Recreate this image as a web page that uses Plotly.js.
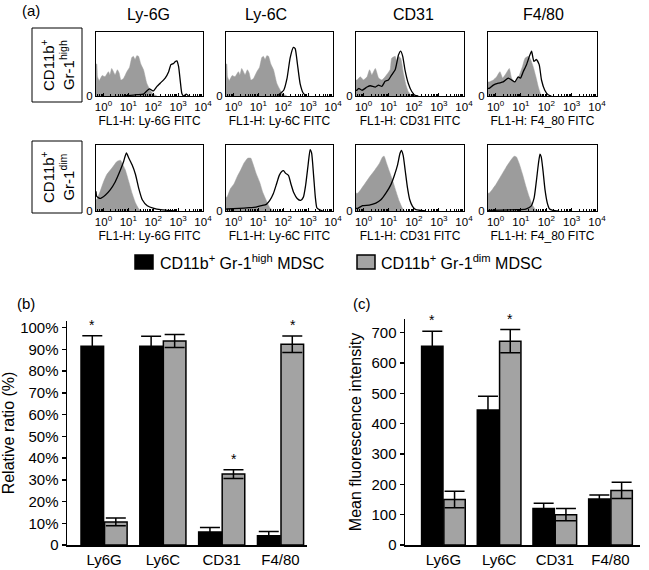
<!DOCTYPE html>
<html><head><meta charset="utf-8">
<script src="https://cdn.plot.ly/plotly-3.0.1.min.js"></script>
<style>html,body{margin:0;padding:0;background:#fff}#chart{width:649px;height:570px}</style>
</head><body><div id="chart"></div>
<script>
// ---------- (a) histograms: x in log10 decades, y in % of panel height ----------
const hiIso_x = [-0.3,-0.27,-0.24,-0.17,-0.05,0.06,0.2,0.26,0.33,0.4,0.47,0.56,0.63,0.7,0.8,0.94,1.05,1.14,1.2,1.27,1.34,1.41,1.5,1.61,1.74,1.88,2.01,2.15];
const hiIso_y = [50,50,30,24,32,30,38,33,43,38,33,41,36,25,27,38,45,60,62,57,63,62,50,41,20,9,3,0];
const hiLy6G_x = [0.8,1.07,1.34,1.61,1.74,1.85,1.94,2.01,2.15,2.28,2.48,2.62,2.71,2.82,2.89,2.95,3.02,3.09,3.15,3.22,3.33,3.42];
const hiLy6G_y = [0,1,2,3,8,11,9,8,15,20,28,38,49,51,54,55,46,22,4,0,3,0];
const hiLy6C_x = [1.75,2.02,2.15,2.28,2.41,2.48,2.57,2.68,2.81,2.94];
const hiLy6C_y = [0,9,27,60,76,74,50,19,4,0];
const hiIsoCD31_x = [-0.3,-0.26,-0.13,0.0,0.14,0.24,0.33,0.47,0.6,0.73,0.86,1.06,1.12,1.26,1.32,1.39,1.48,1.59,1.69,1.78,1.92];
const hiIsoCD31_y = [25,25,30,25,30,41,33,43,28,25,30,41,59,62,54,62,59,35,17,7,0];
const hiCD31_x = [-0.3,-0.26,-0.19,-0.06,0.14,0.27,0.47,0.6,0.73,0.86,0.99,1.12,1.26,1.32,1.39,1.48,1.56,1.65,1.78,1.92,2.05,2.18];
const hiCD31_y = [9,9,12,9,14,16,14,17,15,23,25,33,41,51,64,70,62,41,20,7,1,0];
const hiIsoF480_x = [-0.3,-0.25,-0.09,0.04,0.17,0.28,0.41,0.54,0.63,0.76,0.89,1.06,1.16,1.29,1.38,1.48,1.59,1.68,1.77,1.88];
const hiIsoF480_y = [22,22,25,30,38,28,35,43,28,22,28,46,59,62,57,46,30,15,4,0];
const hiF480_x = [-0.3,-0.25,-0.09,0.11,0.3,0.5,0.63,0.76,0.89,0.98,1.09,1.22,1.35,1.42,1.51,1.61,1.72,1.81,1.94,2.07,2.2];
const hiF480_y = [12,12,17,20,22,28,25,22,30,28,38,49,64,70,54,57,49,25,9,2,0];

const dimIsoLy6G_x = [-0.3,-0.25,-0.14,0.0,0.13,0.34,0.54,0.68,0.78,0.88,1.02,1.15,1.29,1.42,1.56];
const dimIsoLy6G_y = [17,19,29,44,55,65,75,77,70,62,44,27,12,3,0];
const dimLy6G_x = [-0.3,-0.27,-0.14,0.07,0.27,0.47,0.68,0.81,0.92,1.02,1.15,1.29,1.42,1.56,1.76,2.03,2.3,2.57,2.85];
const dimLy6G_y = [30,22,19,24,32,44,62,75,88,80,70,55,34,17,8,4,2,1,0];
const dimIsoLy6C_x = [-0.3,-0.26,-0.12,0.02,0.15,0.29,0.43,0.57,0.7,0.77,0.91,1.05,1.18,1.32,1.46,1.6];
const dimIsoLy6C_y = [21,21,34,41,52,62,73,80,80,73,57,44,28,16,5,0];
const dimLy6C_x = [-0.3,-0.26,0.22,0.63,0.91,1.12,1.32,1.46,1.6,1.73,1.84,1.94,2.01,2.1,2.21,2.31,2.42,2.56,2.7,2.81,2.9,3.0,3.08,3.14,3.22,3.29,3.35,3.45,3.59];
const dimLy6C_y = [3,3,4,5,6,8,10,16,26,41,54,60,61,57,54,41,28,19,16,21,39,70,93,88,54,21,5,2,0];
const dimIsoCD31_x = [-0.3,-0.23,-0.1,0.03,0.23,0.43,0.63,0.76,0.82,0.92,1.02,1.16,1.29,1.42,1.55,1.66];
const dimIsoCD31_y = [27,27,33,40,51,61,72,82,83,72,61,46,30,15,4,0];
const dimCD31_x = [-0.3,-0.23,-0.04,0.23,0.49,0.69,0.89,1.09,1.22,1.35,1.45,1.51,1.58,1.66,1.75,1.84,1.95,2.08,2.28,2.48];
const dimCD31_y = [4,4,8,9,12,17,27,40,53,69,87,92,84,61,35,17,7,2,1,0];
const dimIsoF480_x = [-0.3,-0.25,-0.12,0.01,0.21,0.41,0.6,0.73,0.82,0.93,1.06,1.19,1.32,1.45,1.58,1.69];
const dimIsoF480_y = [27,27,33,40,53,66,77,83,82,72,56,38,22,9,2,0];
const dimF480_x = [-0.3,0.8,1.19,1.39,1.52,1.61,1.69,1.75,1.8,1.87,1.95,2.04,2.13,2.26,2.5];
const dimF480_y = [1,2,3,7,20,46,72,86,82,61,32,12,3,1,0];

const markerTitles = ['Ly-6G','Ly-6C','CD31','F4/80'];
const axisLabels = ['FL1-H: Ly-6G FITC','FL1-H: Ly-6C FITC','FL1-H: CD31 FITC','FL1-H: F4_80 FITC'];
const decadeTickText = ['10<sup>0</sup>','10<sup>1</sup>','10<sup>2</sup>','10<sup>3</sup>','10<sup>4</sup>'];

// ---------- (b), (c) bar charts ----------
const categories = ['Ly6G','Ly6C','CD31','F4/80'];
const ratioHigh = [91.4, 91.4, 6.0, 4.2];
const ratioHighErr = [4.8, 4.6, 2.0, 2.0];
const ratioDim = [10.6, 93.8, 32.6, 92.3];
const ratioDimErr = [1.8, 3.0, 2.0, 3.8];
const mfiHigh = [655, 445, 120, 152];
const mfiHighErr = [50, 45, 18, 13];
const mfiDim = [150, 672, 100, 180];
const mfiDimErr = [27, 38, 20, 27];
const ratioTicks = [0,10,20,30,40,50,60,70,80,90,100];
const mfiTicks = [0,100,200,300,400,500,600,700];

// ---------- build ----------
const W = 649, H = 570;
const px = v => v / W, py = v => 1 - v / H;
const FONT = 'Liberation Sans, Arial, Helvetica, sans-serif';
const GRAY_H = '#9c9c9c', GRAY_B = '#a3a3a3';

const panels = [
  [hiIso_x, hiIso_y, hiLy6G_x, hiLy6G_y],
  [hiIso_x, hiIso_y, hiLy6C_x, hiLy6C_y],
  [hiIsoCD31_x, hiIsoCD31_y, hiCD31_x, hiCD31_y],
  [hiIsoF480_x, hiIsoF480_y, hiF480_x, hiF480_y],
  [dimIsoLy6G_x, dimIsoLy6G_y, dimLy6G_x, dimLy6G_y],
  [dimIsoLy6C_x, dimIsoLy6C_y, dimLy6C_x, dimLy6C_y],
  [dimIsoCD31_x, dimIsoCD31_y, dimCD31_x, dimCD31_y],
  [dimIsoF480_x, dimIsoF480_y, dimF480_x, dimF480_y]
];
const colX = [[96,203],[226,333],[356,464],[488,597]];
const rowY = [[32,96],[145,211]];

const minorVals = [];
for (const base of [0.1,1,10,100,1000]) for (let d=2; d<=9; d++) minorVals.push(base*d);

const data = [];
const layout = {
  width: W, height: H, margin:{l:0,r:0,t:0,b:0},
  paper_bgcolor:'#fff', plot_bgcolor:'rgba(0,0,0,0)',
  font:{family:FONT, color:'#000'},
  showlegend:false, barmode:'group', bargap:0.2, bargroupgap:0.04,
  annotations:[], shapes:[]
};

panels.forEach((p, i) => {
  const n = i + 1, id = n === 1 ? '' : String(n);
  const r = Math.floor(i / 4), c = i % 4;
  data.push({type:'scatter', mode:'lines', x:p[0].map(v=>Math.pow(10,v)), y:p[1],
    fill:'tozeroy', fillcolor:GRAY_H, line:{color:GRAY_H, width:0.5, shape:'spline', smoothing:0.4},
    xaxis:'x'+id, yaxis:'y'+id, hoverinfo:'skip'});
  data.push({type:'scatter', mode:'lines', x:p[2].map(v=>Math.pow(10,v)), y:p[3],
    line:{color:'#000', width:1.3, shape:'spline', smoothing:0.5},
    xaxis:'x'+id, yaxis:'y'+id, hoverinfo:'skip'});
  layout['xaxis'+id] = {domain:[px(colX[c][0]), px(colX[c][1])], anchor:'y'+id, type:'log', range:[-0.3,4],
    tickmode:'array', tickvals:[1,10,100,1000,10000], ticktext:decadeTickText,
    ticks:'inside', ticklen:3, tickwidth:1, tickcolor:'#000',
    minor:{tickmode:'array', tickvals:minorVals, ticks:'inside', ticklen:2, tickwidth:1, tickcolor:'#000', showgrid:false},
    showline:true, mirror:true, linecolor:'#000', linewidth:1, showgrid:false, zeroline:false,
    tickfont:{size:11.5}, title:{text:axisLabels[c], font:{size:12}, standoff:4}, fixedrange:true};
  layout['yaxis'+id] = {domain:[py(rowY[r][1]), py(rowY[r][0])], anchor:'x'+id, range:[0,100],
    tickmode:'array', tickvals:[0], ticktext:['0'], ticks:'', showline:true, mirror:true,
    linecolor:'#000', linewidth:1, showgrid:false, zeroline:false, tickfont:{size:11.5}, fixedrange:true};
});

// bar traces
function bars(y, err, color, xa, ya) {
  return {type:'bar', x:categories, y:y, xaxis:xa, yaxis:ya, hoverinfo:'skip',
    marker:{color:color, line:{color:'#000', width:1.5}},
    error_y:{type:'data', array:err, visible:true, color:'#000', thickness:1.5, width:10}};
}
data.push(bars(ratioHigh, ratioHighErr, '#000', 'x9', 'y9'));
data.push(bars(ratioDim, ratioDimErr, GRAY_B, 'x9', 'y9'));
data.push(bars(mfiHigh, mfiHighErr, '#000', 'x10', 'y10'));
data.push(bars(mfiDim, mfiDimErr, GRAY_B, 'x10', 'y10'));

const barX = {type:'category', showline:true, linecolor:'#000', linewidth:1.5, ticks:'', showgrid:false,
  zeroline:false, tickfont:{size:15}, fixedrange:true};
const barY = {showline:true, linecolor:'#000', linewidth:1.5, ticks:'outside', ticklen:4, tickwidth:1.5,
  tickcolor:'#000', showgrid:false, zeroline:false, tickfont:{size:15}, fixedrange:true};
layout.xaxis9 = Object.assign({}, barX, {domain:[px(67), px(307)], anchor:'y9', range:[-0.63, 3.45]});
layout.yaxis9 = Object.assign({}, barY, {domain:[py(545), py(321)], anchor:'x9', range:[0,103],
  tickmode:'array', tickvals:ratioTicks, ticktext:ratioTicks.map(v => v === 0 ? '0' : v + '%'),
  title:{text:'Relative ratio (%)', font:{size:16}, standoff:4}});
layout.xaxis10 = Object.assign({}, barX, {domain:[px(405), px(640)], anchor:'y10', range:[-0.69, 3.53]});
layout.yaxis10 = Object.assign({}, barY, {domain:[py(545), py(319)], anchor:'x10', range:[0,745],
  tickmode:'array', tickvals:mfiTicks, ticktext:mfiTicks.map(String),
  title:{text:'Mean fluorescence intensity', font:{size:16}, standoff:6}});

// annotations
function ann(text, x, y, size, extra) {
  layout.annotations.push(Object.assign({text:text, xref:'paper', yref:'paper', x:px(x), y:py(y),
    xanchor:'center', yanchor:'middle', showarrow:false, font:{size:size}}, extra || {}));
}
ann('(a)', 31, 11, 15);
ann('(b)', 26, 303, 15);
ann('(c)', 362, 303, 15);
const titleX = [148, 266, 413, 543];
markerTitles.forEach((t, i) => ann(t, titleX[i], 15, 16));
ann('CD11b<sup>+</sup><br>Gr-1<sup>high</sup>', 57, 65, 15, {textangle:-90});
ann('CD11b<sup>+</sup><br>Gr-1<sup>dim</sup>', 57, 177, 15, {textangle:-90});
layout.shapes.push({type:'rect', xref:'paper', yref:'paper', x0:px(32), x1:px(82), y0:py(28), y1:py(102), line:{color:'#000', width:1}});
layout.shapes.push({type:'rect', xref:'paper', yref:'paper', x0:px(32), x1:px(82), y0:py(141), y1:py(213), line:{color:'#000', width:1}});
// legend
layout.shapes.push({type:'rect', xref:'paper', yref:'paper', x0:px(135), x1:px(153), y0:py(255), y1:py(269), fillcolor:'#000', line:{color:'#000', width:1.5}});
layout.shapes.push({type:'rect', xref:'paper', yref:'paper', x0:px(357), x1:px(375), y0:py(255), y1:py(269), fillcolor:GRAY_B, line:{color:'#000', width:1.5}});
ann('CD11b<sup>+</sup> Gr-1<sup>high</sup> MDSC', 158, 262, 16, {xanchor:'left'});
ann('CD11b<sup>+</sup> Gr-1<sup>dim</sup> MDSC', 379, 262, 16, {xanchor:'left'});
// significance asterisks
function star(xa, ya, cat, shift, y) {
  layout.annotations.push({text:'*', xref:xa, yref:ya, x:cat, y:y, xshift:shift, yshift:1,
    xanchor:'center', yanchor:'bottom', showarrow:false, font:{size:14}});
}
star('x9','y9','Ly6G', -12, ratioHigh[0] + ratioHighErr[0]);
star('x9','y9','CD31', 12, ratioDim[2] + ratioDimErr[2]);
star('x9','y9','F4/80', 12, ratioDim[3] + ratioDimErr[3]);
star('x10','y10','Ly6G', -11, mfiHigh[0] + mfiHighErr[0]);
star('x10','y10','Ly6C', 11, mfiDim[1] + mfiDimErr[1]);

Plotly.newPlot('chart', data, layout, {staticPlot:true, displayModeBar:false});
</script>
</body></html>
